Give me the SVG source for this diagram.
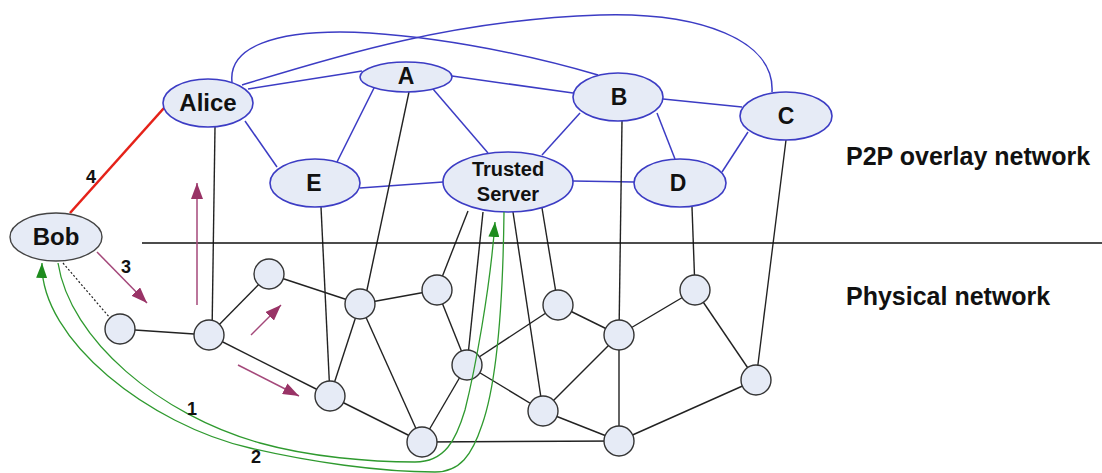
<svg xmlns="http://www.w3.org/2000/svg" width="1102" height="473" viewBox="0 0 1102 473">
<style>
.bg{fill:#ffffff}
.ov{fill:#e6ebf6;stroke:#3c3cc4;stroke-width:1.6}
.bob{fill:#e6ebf6;stroke:#444;stroke-width:1.4}
.ph{fill:#e6ebf6;stroke:#333;stroke-width:1.4}
.blue{fill:none;stroke:#3c3cc4;stroke-width:1.5}
.blk{fill:none;stroke:#222;stroke-width:1.4}
.sep{stroke:#111;stroke-width:1.5}
.red{stroke:#e52219;stroke-width:2.6}
.pur{stroke:#a4487a;stroke-width:1.5;fill:none}
.grn{stroke:#2f9a2f;stroke-width:1.3;fill:none}
.lbl{font-family:"Liberation Sans",Arial,sans-serif;font-weight:bold;fill:#111;text-anchor:middle}
.big{font-family:"Liberation Sans",Arial,sans-serif;font-weight:bold;fill:#111;font-size:25px}
.num{font-family:"Liberation Sans",Arial,sans-serif;font-weight:bold;fill:#111;font-size:18px;text-anchor:middle}
</style>
<defs>
<marker id="ap" markerUnits="userSpaceOnUse" markerWidth="16" markerHeight="12" refX="16" refY="6" orient="auto">
<path d="M0,0 L16,6 L0,12 z" fill="#993366"/>
</marker>
<marker id="ag" markerUnits="userSpaceOnUse" markerWidth="15" markerHeight="11" refX="15" refY="5.5" orient="auto">
<path d="M0,0 L15,5.5 L0,11 z" fill="#1e8c1e"/>
</marker>
</defs>
<rect class="bg" x="0" y="0" width="1102" height="473"/>

<g id="connectors">
<!-- overlay links -->
<path class="blue" d="M232,82 C228,45 280,32 340,32 C420,33 520,52 598,75"/>
<path class="blue" d="M242,85 C330,58 450,20 600,15 C700,12 775,40 772,92"/>
<line class="blue" x1="248" y1="89" x2="362" y2="71"/>
<line class="blue" x1="245" y1="121" x2="277" y2="167"/>
<line class="blue" x1="337" y1="162" x2="375" y2="86"/>
<line class="blue" x1="360" y1="188" x2="443" y2="182"/>
<line class="blue" x1="433" y1="89" x2="488" y2="153"/>
<line class="blue" x1="452" y1="76" x2="573" y2="93"/>
<line class="blue" x1="580" y1="113" x2="542" y2="155"/>
<line class="blue" x1="657" y1="113" x2="675" y2="159"/>
<line class="blue" x1="663" y1="99" x2="742" y2="107"/>
<line class="blue" x1="573" y1="181" x2="634" y2="182"/>
<line class="blue" x1="722" y1="172" x2="748" y2="132"/>
<!-- overlay to physical -->
<line class="blk" x1="215" y1="127" x2="212" y2="335"/>
<line class="blk" x1="321" y1="207" x2="330" y2="396"/>
<line class="blk" x1="409" y1="92" x2="364" y2="304"/>
<line class="blk" x1="468" y1="211" x2="437" y2="290"/>
<line class="blk" x1="483" y1="212" x2="467" y2="365"/>
<line class="blk" x1="513" y1="212" x2="543" y2="411"/>
<line class="blk" x1="542" y1="208" x2="558" y2="305"/>
<line class="blk" x1="622" y1="121" x2="619" y2="335"/>
<line class="blk" x1="692" y1="207" x2="695" y2="290"/>
<line class="blk" x1="786" y1="140" x2="756" y2="380"/>
<!-- physical links -->
<line class="blk" x1="120" y1="329" x2="209" y2="335"/>
<line class="blk" x1="209" y1="335" x2="269" y2="274"/>
<line class="blk" x1="209" y1="335" x2="330" y2="396"/>
<line class="blk" x1="269" y1="274" x2="360" y2="304"/>
<line class="blk" x1="330" y1="396" x2="360" y2="304"/>
<line class="blk" x1="330" y1="396" x2="422" y2="442"/>
<line class="blk" x1="360" y1="304" x2="437" y2="290"/>
<line class="blk" x1="360" y1="304" x2="422" y2="442"/>
<line class="blk" x1="437" y1="290" x2="467" y2="365"/>
<line class="blk" x1="467" y1="365" x2="422" y2="442"/>
<line class="blk" x1="467" y1="365" x2="558" y2="305"/>
<line class="blk" x1="467" y1="365" x2="543" y2="411"/>
<line class="blk" x1="422" y1="442" x2="619" y2="441"/>
<line class="blk" x1="558" y1="305" x2="619" y2="335"/>
<line class="blk" x1="619" y1="335" x2="543" y2="411"/>
<line class="blk" x1="619" y1="335" x2="619" y2="441"/>
<line class="blk" x1="619" y1="335" x2="695" y2="290"/>
<line class="blk" x1="543" y1="411" x2="619" y2="441"/>
<line class="blk" x1="619" y1="441" x2="756" y2="380"/>
<line class="blk" x1="695" y1="290" x2="756" y2="380"/>
<!-- Bob access -->
<line x1="63" y1="263" x2="110" y2="318" stroke="#222" stroke-width="1.2" stroke-dasharray="2,2"/>
<line class="red" x1="70" y1="213" x2="164" y2="108"/>
<!-- separator -->
<line class="sep" x1="142" y1="243" x2="1102" y2="243"/>
</g>

<g id="node-alice"><ellipse class="ov" cx="208" cy="103" rx="45" ry="24"/><text class="lbl" x="208" y="111" font-size="24">Alice</text></g>
<g id="node-a"><ellipse class="ov" cx="406" cy="77" rx="46" ry="15"/><text class="lbl" x="406" y="84" font-size="23">A</text></g>
<g id="node-b"><ellipse class="ov" cx="618" cy="97" rx="45" ry="24"/><text class="lbl" x="619" y="105" font-size="23">B</text></g>
<g id="node-c"><ellipse class="ov" cx="786" cy="116" rx="46" ry="24"/><text class="lbl" x="786" y="124" font-size="23">C</text></g>
<g id="node-e"><ellipse class="ov" cx="315" cy="183" rx="45" ry="24"/><text class="lbl" x="314" y="191" font-size="23">E</text></g>
<g id="node-d"><ellipse class="ov" cx="680" cy="183" rx="46" ry="24"/><text class="lbl" x="678" y="191" font-size="23">D</text></g>
<g id="node-ts"><ellipse class="ov" cx="508" cy="182" rx="65" ry="30"/><text class="lbl" x="508" y="176" font-size="20">Trusted</text><text class="lbl" x="508" y="201" font-size="20">Server</text></g>
<g id="node-bob"><ellipse class="bob" cx="56" cy="237" rx="46" ry="24"/><text class="lbl" x="56" y="245" font-size="24">Bob</text></g>

<g id="node-p1"><circle class="ph" cx="120" cy="329" r="15"/></g>
<g id="node-p2"><circle class="ph" cx="209" cy="335" r="15"/></g>
<g id="node-p3"><circle class="ph" cx="269" cy="274" r="15"/></g>
<g id="node-p4"><circle class="ph" cx="330" cy="396" r="15"/></g>
<g id="node-p5"><circle class="ph" cx="360" cy="304" r="15"/></g>
<g id="node-p6"><circle class="ph" cx="437" cy="290" r="15"/></g>
<g id="node-p7"><circle class="ph" cx="467" cy="365" r="15"/></g>
<g id="node-p8"><circle class="ph" cx="422" cy="442" r="15"/></g>
<g id="node-p9"><circle class="ph" cx="558" cy="305" r="15"/></g>
<g id="node-p10"><circle class="ph" cx="619" cy="335" r="15"/></g>
<g id="node-p11"><circle class="ph" cx="543" cy="411" r="15"/></g>
<g id="node-p12"><circle class="ph" cx="619" cy="441" r="15"/></g>
<g id="node-p13"><circle class="ph" cx="695" cy="290" r="15"/></g>
<g id="node-p14"><circle class="ph" cx="756" cy="380" r="15"/></g>

<g id="flows">
<path class="grn" d="M58,263 C70,340 160,415 260,443 C310,457 370,462 415,462 C445,462 456,440 465,410 C475,370 490,290 495,222" marker-end="url(#ag)"/>
<path class="grn" d="M504,212 C503,300 498,380 482,425 C472,455 460,472 435,472 C380,472 310,462 250,448 C150,425 40,340 42,263" marker-end="url(#ag)"/>
<line class="pur" x1="197" y1="305" x2="197" y2="183" marker-end="url(#ap)"/>
<line class="pur" x1="97" y1="252" x2="147" y2="303" marker-end="url(#ap)"/>
<line class="pur" x1="251" y1="335" x2="281" y2="305" marker-end="url(#ap)"/>
<line class="pur" x1="238" y1="365" x2="299" y2="396" marker-end="url(#ap)"/>
</g>

<g id="labels">
<text class="num" x="91" y="183">4</text>
<text class="num" x="126" y="273">3</text>
<text class="num" x="192" y="415">1</text>
<text class="num" x="256" y="463">2</text>
<text class="big" x="846" y="165">P2P overlay network</text>
<text class="big" x="846" y="305">Physical network</text>
</g>
</svg>
